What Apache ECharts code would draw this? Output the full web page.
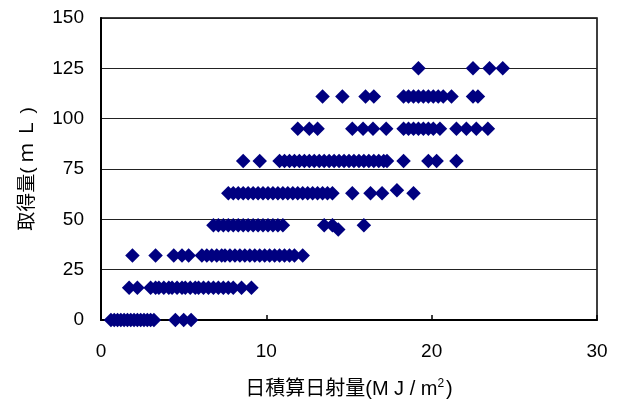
<!DOCTYPE html>
<html>
<head>
<meta charset="utf-8">
<script src="https://cdn.jsdelivr.net/npm/echarts@6/dist/echarts.min.js"></script>
<style>
  html, body { margin: 0; padding: 0; background: #fff; }
  #chart { width: 621px; height: 405px; }
</style>
</head>
<body>
<div id="chart"></div>
<script>
// 取得量の段階 (mL) とその段階ごとの日積算日射量 (MJ/m2)
const row0 = [0.6, 0.8, 1.0, 1.2, 1.4, 1.6, 1.8, 2.0, 2.2, 2.4, 2.6, 2.8, 3.0, 3.2, 4.5, 5.0, 5.45];
const row16 = [1.7, 2.2, 3.0, 3.3, 3.5, 3.8, 4.1, 4.3, 4.6, 4.9, 5.1, 5.4, 5.7, 5.9, 6.2, 6.5, 6.8, 7.1, 7.4, 7.7, 8.0, 8.5, 9.1];
const row32 = [1.9, 3.3, 4.4, 4.9, 5.3, 6.1, 6.4, 6.7, 7.0, 7.3, 7.5, 7.8, 8.1, 8.4, 8.7, 9.0, 9.3, 9.6, 9.9, 10.2, 10.5, 10.8, 11.1, 11.4, 11.7, 12.2];
const row47 = [6.8, 7.1, 7.4, 7.7, 8.0, 8.3, 8.6, 8.9, 9.2, 9.5, 9.8, 10.1, 10.4, 10.7, 11.0, 13.5, 14.0, 15.9];
const row63 = [7.7, 8.0, 8.3, 8.6, 8.9, 9.2, 9.5, 9.8, 10.1, 10.4, 10.7, 11.0, 11.3, 11.6, 11.9, 12.2, 12.5, 12.8, 13.1, 13.4, 13.7, 14.0, 15.2, 16.3, 17.0, 18.9];
const row79 = [8.6, 9.6, 10.8, 11.1, 11.4, 11.7, 12.0, 12.3, 12.6, 12.9, 13.2, 13.5, 13.8, 14.1, 14.4, 14.7, 15.0, 15.3, 15.6, 15.9, 16.2, 16.5, 16.8, 17.1, 17.3, 18.3, 19.8, 20.3, 21.5];
const row95 = [11.9, 12.6, 13.1, 15.2, 15.85, 16.45, 17.25, 18.3, 18.6, 18.9, 19.2, 19.5, 19.8, 20.1, 20.5, 21.5, 22.1, 22.7, 23.4];
const row111 = [13.4, 14.6, 16.0, 16.5, 18.3, 18.6, 18.9, 19.2, 19.5, 19.8, 20.1, 20.4, 20.7, 21.2, 22.5, 22.8];
const row125 = [19.2, 22.5, 23.5, 24.3];
const extraPoints = [[14.35, 45], [17.9, 64.5]];

const rows = [[0, row0], [16, row16], [32, row32], [47, row47], [63, row63], [79, row79], [95, row95], [111, row111], [125, row125]];
const points = [];
rows.forEach(([y, xs]) => xs.forEach(x => points.push([x, y])));
extraPoints.forEach(p => points.push(p));

const numFont = '"Liberation Sans", Arial, sans-serif';
const jpFont = '"Liberation Sans", "Noto Sans CJK JP", sans-serif';

let myChart = echarts.init(document.querySelector('#chart'));
myChart.setOption({
    animation: false,
    grid: {
        left: 101, right: 24, top: 18, bottom: 85,
        show: true, borderColor: '#000', borderWidth: 1.5
    },
    xAxis: {
        type: 'value',
        min: 0, max: 30, interval: 10,
        name: '日積算日射量(M J / m{sup|2})',
        nameLocation: 'middle',
        nameGap: 58,
        nameTextStyle: {
            color: '#000', fontSize: 20, fontFamily: jpFont,
            rich: { sup: { fontSize: 12, verticalAlign: 'top', padding: [0, 2, 10, 0], fontFamily: numFont, color: '#000' } }
        },
        axisLine: { lineStyle: { color: '#000', width: 2 } },
        axisTick: { inside: true, length: 5, lineStyle: { color: '#000', width: 1.5 } },
        axisLabel: { color: '#000', fontSize: 19, fontFamily: numFont, margin: 22 },
        splitLine: { show: false }
    },
    yAxis: {
        type: 'value',
        min: 0, max: 150, interval: 25,
        name: '取得量( ｍ Ｌ )',
        nameLocation: 'middle',
        nameGap: 64,
        nameTextStyle: { color: '#000', fontSize: 19, fontFamily: jpFont },
        axisLine: { show: true, lineStyle: { color: '#000', width: 2 } },
        axisTick: { show: false },
        axisLabel: { color: '#000', fontSize: 19, fontFamily: numFont, margin: 17 },
        splitLine: { lineStyle: { color: '#222', width: 1.2 } }
    },
    series: [{
        type: 'scatter',
        symbol: 'diamond',
        symbolSize: 14.5,
        clip: false,
        itemStyle: { color: '#000080', opacity: 1 },
        data: points
    }]
});
</script>
</body>
</html>
